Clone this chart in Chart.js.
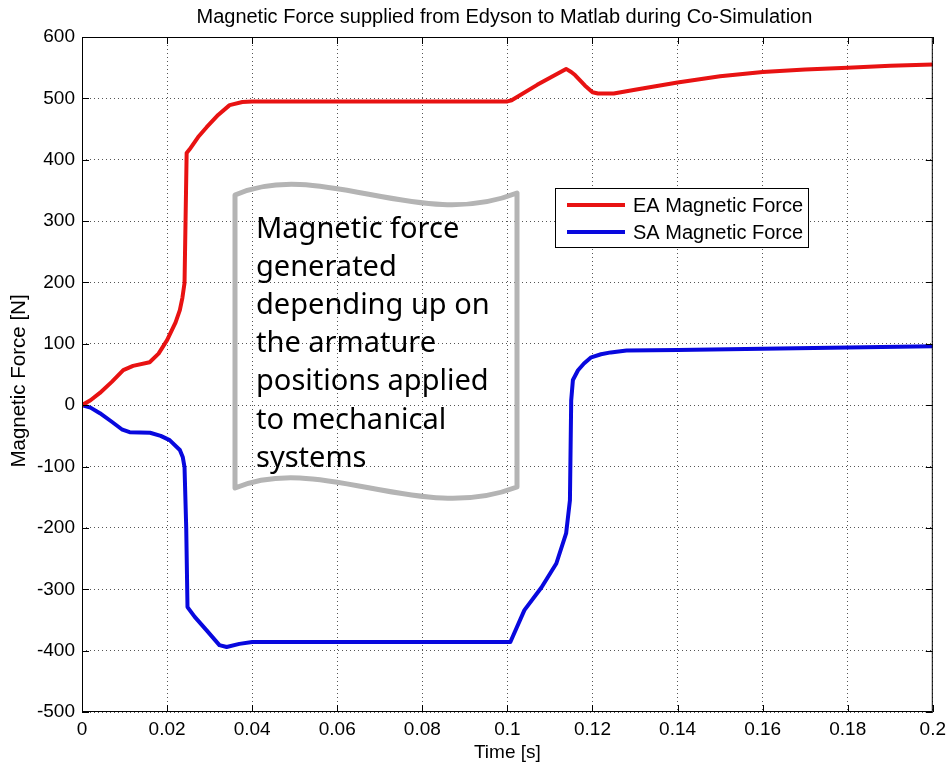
<!DOCTYPE html>
<html><head><meta charset="utf-8">
<script src="https://cdn.jsdelivr.net/npm/chart.js@4.4.0/dist/chart.umd.min.js"></script>
<style>html,body{margin:0;padding:0;background:#fff;}#wrap{width:952px;height:767px;position:relative;}</style>
</head><body><div id="wrap"><canvas id="c" width="952" height="767"></canvas></div>
<script>
const chartTitle = 'Magnetic Force supplied from Edyson to Matlab during Co-Simulation';
const xAxisTitle = 'Time [s]';
const yAxisTitle = 'Magnetic Force [N]';
const seriesNames = ['EA Magnetic Force', 'SA Magnetic Force'];
const xTicks = [0, 0.02, 0.04, 0.06, 0.08, 0.1, 0.12, 0.14, 0.16, 0.18, 0.2];
const yTicks = [-500, -400, -300, -200, -100, 0, 100, 200, 300, 400, 500, 600];

const eaTime  = [0, 0.002, 0.0042, 0.007, 0.0097, 0.012, 0.0159, 0.018, 0.020, 0.022, 0.023, 0.0236, 0.0241, 0.0246, 0.0253, 0.0273, 0.0293, 0.032, 0.0347, 0.0377, 0.040, 0.100, 0.101, 0.107, 0.1138, 0.1150, 0.1159, 0.1182, 0.1200, 0.1213, 0.125, 0.130, 0.140, 0.150, 0.160, 0.170, 0.180, 0.190, 0.200];
const eaForce = [0, 8, 20, 38, 57, 64, 70, 84, 106, 135, 155, 175, 199, 411, 417, 437, 453, 473, 489, 494, 495, 495, 497, 522, 548, 543, 538, 521, 510, 508, 508, 514, 526, 536, 543, 547, 550, 553, 555];

const saTime  = [0, 0.002, 0.0042, 0.007, 0.0095, 0.0112, 0.016, 0.0185, 0.0206, 0.023, 0.0237, 0.0241, 0.0245, 0.0248, 0.0265, 0.0293, 0.0323, 0.034, 0.037, 0.040, 0.100, 0.1007, 0.104, 0.108, 0.1115, 0.1138, 0.1147, 0.1150, 0.1154, 0.1166, 0.118, 0.1197, 0.122, 0.1243, 0.128, 0.140, 0.160, 0.180, 0.200];
const saForce = [0, -4, -13, -27, -40, -44, -45, -50, -57, -73, -85, -101, -200, -329, -345, -367, -391, -394, -389, -386, -386, -386, -334, -297, -258, -209, -155, 8, 41, 57, 68, 78, 83, 86, 89, 90, 92, 94, 96];

const calloutLines = ['Magnetic force', 'generated', 'depending up on', 'the armature', 'positions applied', 'to mechanical', 'systems'];

const seriesColors = ['rgb(232,18,18)', 'rgb(8,8,222)'];
const FONT = '"Liberation Sans", Arial, sans-serif';

function pts(xs, ys) { return xs.map((v, i) => ({x: v, y: ys[i]})); }

const overlay = {
  id: 'overlay',
  afterDraw(chart) {
    const {ctx, chartArea: a, scales: {x, y}} = chart;
    ctx.save();
    ctx.strokeStyle = '#000'; ctx.lineWidth = 1; ctx.setLineDash([]);
    ctx.strokeRect(a.left + 0.5, a.top + 0.5, a.right - a.left - 1, a.bottom - a.top - 1);
    const tl = 7;
    ctx.beginPath();
    xTicks.forEach(v => { const px = Math.round(x.getPixelForValue(v)) + 0.5;
      ctx.moveTo(px, a.bottom); ctx.lineTo(px, a.bottom - tl);
      ctx.moveTo(px, a.top); ctx.lineTo(px, a.top + tl); });
    yTicks.forEach(v => { const py = Math.round(y.getPixelForValue(v)) + 0.5;
      ctx.moveTo(a.left, py); ctx.lineTo(a.left + tl, py);
      ctx.moveTo(a.right, py); ctx.lineTo(a.right - tl, py); });
    ctx.stroke();
    // title
    ctx.fillStyle = '#000';
    ctx.font = '20px ' + FONT;
    ctx.textAlign = 'center'; ctx.textBaseline = 'middle';
    ctx.fillText(chartTitle, (a.left + a.right) / 2 - 3, 17);
    // y-axis title
    ctx.save();
    ctx.translate(19, 381); ctx.rotate(-Math.PI / 2);
    ctx.font = '20.5px ' + FONT;
    ctx.fillText(yAxisTitle, 0, 0);
    ctx.restore();
    // legend
    const lx = 555, ly = 188, lw = 253, lh = 59;
    ctx.fillStyle = '#fff'; ctx.fillRect(lx, ly, lw, lh);
    ctx.strokeStyle = '#000'; ctx.lineWidth = 1;
    ctx.strokeRect(lx + 0.5, ly + 0.5, lw, lh);
    ctx.font = '20px ' + FONT;
    ctx.textAlign = 'left'; ctx.textBaseline = 'middle';
    seriesNames.forEach((n, i) => {
      const yy = ly + 17 + i * 27;
      ctx.strokeStyle = seriesColors[i]; ctx.lineWidth = 4;
      ctx.beginPath(); ctx.moveTo(lx + 12, yy); ctx.lineTo(lx + 70, yy); ctx.stroke();
      ctx.fillStyle = '#000'; ctx.fillText(n, lx + 78, yy + 1);
    });
    // callout (wavy note outline)
    const L = 235, R = 517;
    ctx.strokeStyle = '#b4b4b4'; ctx.lineWidth = 5; ctx.lineJoin = 'round';
    ctx.beginPath();
    ctx.moveTo(L, 195);
    ctx.bezierCurveTo(320, 158, 420, 232, R, 193);
    ctx.lineTo(R, 487);
    ctx.bezierCurveTo(420, 525, 320, 452, L, 488);
    ctx.closePath();
    ctx.stroke();
    ctx.fillStyle = '#000';
    ctx.font = '29px "Noto Sans", sans-serif';
    ctx.textBaseline = 'alphabetic';
    calloutLines.forEach((t, i) => ctx.fillText(t, 256, 238 + i * 38.1));
    ctx.restore();
  }
};

new Chart(document.getElementById('c'), {
  type: 'line',
  data: {
    datasets: [
      {label: seriesNames[0], data: pts(eaTime, eaForce), borderColor: seriesColors[0], borderWidth: 4, pointRadius: 0, tension: 0, borderJoinStyle: 'round', borderCapStyle: 'round', fill: false},
      {label: seriesNames[1], data: pts(saTime, saForce), borderColor: seriesColors[1], borderWidth: 4, pointRadius: 0, tension: 0, borderJoinStyle: 'round', borderCapStyle: 'round', fill: false}
    ]
  },
  options: {
    responsive: false, animation: false, devicePixelRatio: 1,
    layout: {padding: {top: 37, right: 16, left: 0, bottom: 0}},
    plugins: {legend: {display: false}, title: {display: false}, tooltip: {enabled: false}},
    scales: {
      x: {
        type: 'linear', min: 0, max: 0.2,
        afterBuildTicks: s => { s.ticks = xTicks.map(v => ({value: v})); },
        afterFit: s => { s.height = 55; },
        ticks: {color: '#000', padding: 6, maxRotation: 0, autoSkip: false, font: {family: FONT, size: 19}, callback: v => String(v)},
        grid: {color: '#555', lineWidth: 1, drawTicks: false},
        border: {display: false, dash: [1, 3]},
        title: {display: true, text: xAxisTitle, color: '#000', font: {family: FONT, size: 19}, padding: {top: 0, bottom: 3}}
      },
      y: {
        type: 'linear', min: -500, max: 600,
        afterBuildTicks: s => { s.ticks = yTicks.map(v => ({value: v})); },
        afterFit: s => { s.width = 82; },
        ticks: {color: '#000', padding: 7, autoSkip: false, font: {family: FONT, size: 19}, callback: v => String(v)},
        grid: {color: '#555', lineWidth: 1, drawTicks: false},
        border: {display: false, dash: [1, 3]},
        title: {display: false}
      }
    }
  },
  plugins: [overlay]
});
</script></body></html>
